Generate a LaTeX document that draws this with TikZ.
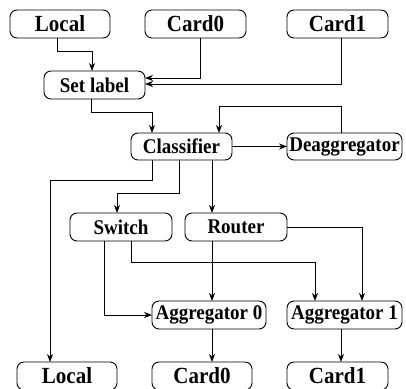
\documentclass[tikz,border=0pt]{standalone}
\usepackage{fontspec}
\usepackage{graphicx}
\setmainfont{Liberation Serif}
\usetikzlibrary{calc}
\usetikzlibrary{arrows.meta}

% Slightly tall lettering, as in the drawing.
\newcommand{\tall}[1]{\scalebox{1}[1.1]{#1}}

\begin{document}
\begin{tikzpicture}[x=1pt,y=-1pt,outer sep = 0pt,inner sep = 2pt,line width=0.9pt]

	\tikzset{block/.style={align=center,shape=rectangle,draw,rounded corners=7pt,
		minimum height=28pt,minimum width=101pt,font=\fontsize{19}{19}\selectfont\bfseries}}

	\tikzset{port/.style={block,minimum width=100pt,font=\fontsize{21}{21}\selectfont\bfseries}}

	\tikzset{wide/.style={block,minimum width=115pt}}

	\tikzset{arr/.style={-{Stealth[length=8pt,width=6pt,inset=2.5pt]}}}

	\useasboundingbox (0,0) rectangle (406,388);

	% Incoming ports.
	\node (inlocal) at (60,24) [port] {\tall{Local}};
	\node (incard0) at (195.5,24) [port,minimum width=101pt] {\tall{Card0}};
	\node (incard1) at (337.5,24) [port,minimum width=101pt] {\tall{Card1}};

	% Processing blocks.
	\node (setlabel) at (94.5,85) [block] {\tall{Set label}};
	\node (classifier) at (181.5,146.5) [block,minimum height=27pt] {\tall{Classifier}};
	\node (deagg) at (344.5,146.5) [wide,minimum height=27pt] {\tall{Deaggregator}};
	\node (switch) at (121,227) [block,minimum width=102pt] {\tall{Switch}};
	\node (router) at (236,227) [block,minimum width=102pt] {\tall{Router}};
	\node (agg0) at (209,315) [wide,minimum width=114pt] {\tall{Aggregator 0}};
	\node (agg1) at (344.5,315) [wide] {\tall{Aggregator 1}};

	% Outgoing ports.
	\node (outlocal) at (67,376) [port] {\tall{Local}};
	\node (outcard0) at (202,376) [port] {\tall{Card0}};
	\node (outcard1) at (337.5,376) [port,minimum width=101pt] {\tall{Card1}};

	% Ports into the label stage.
	\draw [arr] ([xshift=-3pt]inlocal.south) -- ++(0,13) -| ([xshift=-2.5pt]setlabel.north);
	\draw [arr] ([xshift=4.5pt]incard0.south) |- ([yshift=7pt]setlabel.east);
	\draw [arr] ([xshift=3.5pt]incard1.south) |- ([yshift=1pt]setlabel.east);

	% Into the classifier.
	\draw [arr] ([xshift=-3.5pt]setlabel.south) -- ++(0,13) -| ([xshift=-29.5pt]classifier.north);
	\draw [arr] ([xshift=-3.5pt]deagg.north) -- ++(0,-27) -| ([xshift=37.5pt]classifier.north);
	\draw [arr] (classifier.east) -- (deagg.west);

	% Out of the classifier.
	\draw [arr] ([xshift=-29.5pt]classifier.south) -- ++(0,20) -| ([xshift=-17pt]outlocal.north);
	\draw [arr] ([xshift=-2.5pt]classifier.south) -- ++(0,33) -| ([xshift=-4pt]switch.north);
	\draw [arr] ([xshift=30.5pt]classifier.south) -- ([xshift=30.5pt]classifier.south |- router.north);

	% Switch and router into the aggregators.
	\draw [arr] ([xshift=-24pt]router.south) -- ([xshift=-24pt]router.south |- agg0.north);
	\draw [arr] (router.east) -| ([xshift=17.5pt]agg1.north);
	\draw [arr] ([xshift=-17pt]switch.south) |- (agg0.west);
	\draw [arr] ([xshift=10pt]switch.south) -- ++(0,21) -| ([xshift=-29.5pt]agg1.north);

	% Aggregators to the ports.
	\draw [arr] ([xshift=3pt]agg0.south) -- ([xshift=3pt]agg0.south |- outcard0.north);
	\draw [arr] ([xshift=-3.5pt]agg1.south) -- ([xshift=-3.5pt]agg1.south |- outcard1.north);
\end{tikzpicture}
\end{document}
